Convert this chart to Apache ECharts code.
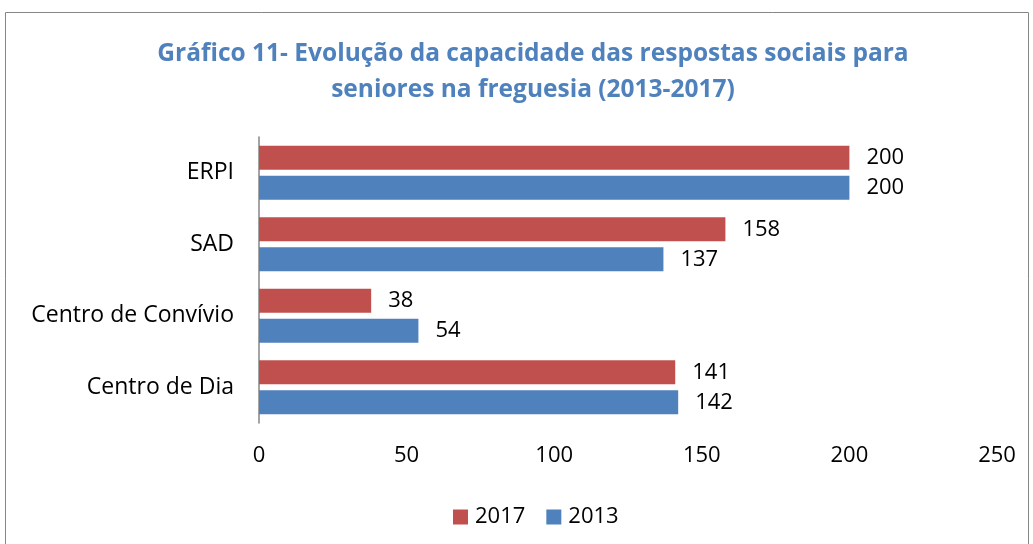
<!DOCTYPE html>
<html><head><meta charset="utf-8">
<script src="https://cdn.jsdelivr.net/npm/echarts@6/dist/echarts.min.js"></script>
<style>html,body{margin:0;padding:0;background:#fff}#c{width:1033px;height:544px}</style>
</head><body><div id="c"></div>
<script>
const categories = ['Centro de Dia', 'Centro de Convívio', 'SAD', 'ERPI'];
const values2017 = [141, 38, 158, 200];
const values2013 = [142, 54, 137, 200];
const xTicks = [0, 50, 100, 150, 200, 250];

const chart = echarts.init(document.getElementById('c'));
const font = 'Open Sans';
const lbl = { fontFamily: font, fontSize: 22, color: '#000' };
chart.setOption({
  animation: false,
  title: {
    text: 'Gráfico 11- Evolução da capacidade das respostas sociais para\nseniores na freguesia (2013-2017)',
    left: 528, textAlign: 'center', top: 31,
    textStyle: { color: '#4F81BD', fontFamily: font, fontWeight: 'bold', fontSize: 24.5, lineHeight: 36 }
  },
  graphic: [{
    type: 'rect', shape: { x: 5.5, y: 12.5, width: 1023, height: 560 },
    style: { fill: 'none', stroke: '#868686', lineWidth: 1 }, silent: true
  }],
  legend: {
    data: ['2017', '2013'], top: 501, left: 448, itemWidth: 15, itemHeight: 15, itemGap: 21,
    icon: 'rect',
    textStyle: { fontFamily: font, fontSize: 22, color: '#000', padding: [0, 0, 0, 2] }
  },
  grid: { left: 259, right: 36, top: 137, bottom: 121, containLabel: false },
  xAxis: {
    type: 'value', min: xTicks[0], max: xTicks[xTicks.length - 1], interval: 50,
    axisLine: { show: false }, axisTick: { show: false }, splitLine: { show: false },
    axisLabel: Object.assign({}, lbl, { margin: 22 })
  },
  yAxis: {
    type: 'category', data: categories,
    axisLine: { show: true, lineStyle: { color: '#868686', width: 1.5 } }, axisTick: { show: false },
    axisLabel: Object.assign({}, lbl, { margin: 25, fontSize: 23 })
  },
  series: [
    { name: '2017', type: 'bar', data: values2017, barWidth: 24, barGap: '25%',
      itemStyle: { color: '#C0504D' },
      label: Object.assign({ show: true, position: 'right', distance: 17 }, lbl) },
    { name: '2013', type: 'bar', data: values2013, barWidth: 24, barGap: '25%',
      itemStyle: { color: '#4F81BD' },
      label: Object.assign({ show: true, position: 'right', distance: 17 }, lbl) }
  ]
});
</script></body></html>
